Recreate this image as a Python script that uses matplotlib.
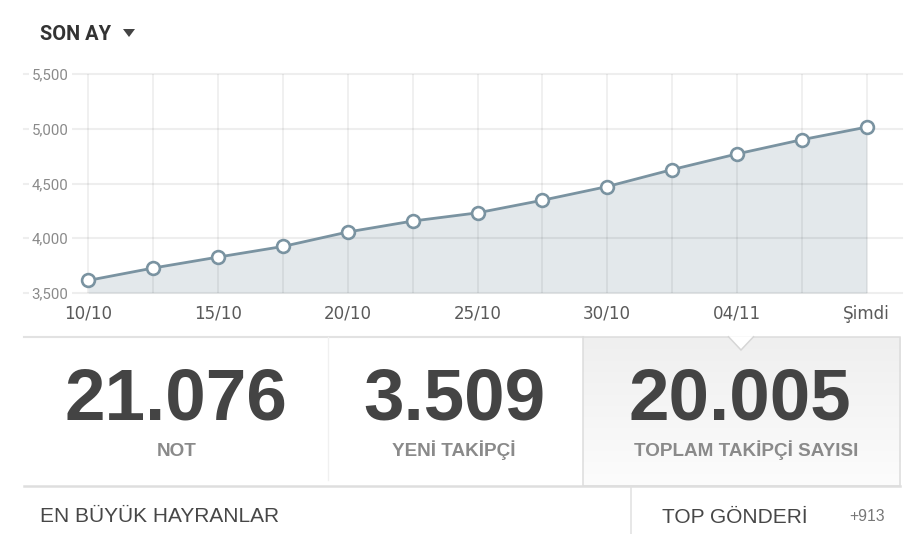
import numpy as np
import matplotlib
matplotlib.use("Agg")
import matplotlib.pyplot as plt
from matplotlib.transforms import blended_transform_factory, offset_copy
from matplotlib.colors import LinearSegmentedColormap
from matplotlib.patches import Rectangle, Polygon

# follower count over the last month (one point per ~2.5 days)
followers = [3615, 3728, 3828, 3925, 4057, 4157, 4232, 4347, 4472, 4627, 4770, 4900, 5015]
tick_labels = ['10/10', '15/10', '20/10', '25/10', '30/10', '04/11', 'Şimdi']
y_ticks = [3500, 4000, 4500, 5000, 5500]

# summary numbers under the chart
stat_values = ['21.076', '3.509', '20.005']
stat_names = ['NOT', 'YENİ TAKİPÇİ', 'TOPLAM TAKİPÇİ SAYISI']

W, H = 917, 534
LINE = '#7a93a1'
FILL = '#e3e8eb'

fig = plt.figure(figsize=(W / 100, H / 100), dpi=100)
fig.patch.set_facecolor('white')

# chart axes: spans pixel x 24..902, y 74..293
ax = fig.add_axes([24 / W, 1 - 293 / H, 878 / W, 219 / H])
# overlay in pixel coordinates for the panel below
ui = fig.add_axes([0, 0, 1, 1], zorder=-1)
ui.axis('off')

idx = np.arange(len(followers))
step = (866.7 - 88.3) / (len(followers) - 1)
ax.set_xlim(-(88.3 - 24) / step, len(followers) - 1 + (902 - 866.7) / step)
ax.set_ylim(y_ticks[0], y_ticks[-1])
ax.axis('off')

ax.fill_between(idx, followers, y_ticks[0], color=FILL, lw=0, zorder=1)
for yv in y_ticks:
    ax.axhline(yv, color='black', alpha=0.065, lw=1.5, clip_on=False, zorder=2)
for i in idx:
    ax.plot([i, i], [y_ticks[0], y_ticks[-1]], color='black', alpha=0.07,
            lw=1.2, zorder=2, solid_capstyle='butt')
ax.plot(idx, followers, color=LINE, lw=2.0, zorder=3, clip_on=False,
        marker='o', ms=9.2, mfc='white', mec=LINE, mew=1.9)

# y labels sit on the gridlines with a white box
ytrans = offset_copy(blended_transform_factory(ui.transData, ax.transData),
                     fig=fig, x=0, y=-5.3 * 0.72, units='points')
for yv in y_ticks:
    ax.text(68.5, yv, f'{yv:,}', transform=ytrans, ha='right', va='baseline',
            fontsize=10.8, family='Roboto', color='#8a8a8a', zorder=4,
            bbox=dict(boxstyle='square,pad=0.2', fc='white', ec='none'))

xtrans = blended_transform_factory(ax.transData, ui.transData)
for i, lab in zip(idx[::2], tick_labels):
    ax.text(i, 319, lab, transform=xtrans, ha='center', va='baseline',
            fontsize=12.1, family='DejaVu Sans', color='#5a5a5a')

# header
fig.text(39.5 / W, 1 - 40 / H, 'SON AY', fontsize=14.4, family='Roboto',
         weight='bold', color='#333333', ha='left', va='baseline')
ui.add_patch(Polygon([[123, 29], [135, 29], [129, 37]], closed=True,
                     fc='#444444', ec='none'))

# stats panel
ui.plot([24, 583], [336.7, 336.7], color='#e2e2e2', lw=1.5)
grad = LinearSegmentedColormap.from_list('g', ['#efefef', '#fcfcfc'])
ui.imshow(np.linspace(0, 1, 100).reshape(-1, 1), extent=[582.7, 900, 485.7, 336.7],
          cmap=grad, aspect='auto', zorder=1)
ui.add_patch(Rectangle((582.7, 336.7), 900 - 582.7, 485.7 - 336.7, fc='none',
                       ec='#dcdcdc', lw=1.1, zorder=2))
ui.add_patch(Polygon([[728, 336.2], [741, 350], [754, 336.2]], closed=False,
                     fc='white', ec='#d6d6d6', lw=1.1, zorder=3))
ui.plot([327.5, 327.5], [337, 480], color='#f0f0f0', lw=1.0, zorder=2)
ui.plot([24, 900], [486, 486], color='#dedede', lw=1.8, zorder=3)
ui.plot([631, 631], [487, 534], color='#e0e0e0', lw=1.1, zorder=3)

num_x = [175.5, 454, 740]
name_x = [177, 454, 746]
for v, n, xv, xn in zip(stat_values, stat_names, num_x, name_x):
    ui.text(xv, 420, v, ha='center', va='baseline', fontsize=52.5,
            family='Liberation Sans', weight='bold', color='#444444', zorder=4)
    ui.text(xn, 456, n, ha='center', va='baseline', fontsize=13.6,
            family='Liberation Sans', weight='bold', color='#8a8a8a', zorder=4)

ui.text(40, 522.5, 'EN BÜYÜK HAYRANLAR', ha='left', va='baseline', fontsize=15,
        family='Liberation Sans', color='#474747')
ui.text(662, 523, 'TOP GÖNDERİ', ha='left', va='baseline', fontsize=15,
        family='Liberation Sans', color='#474747')
ui.text(849, 521, '+913', ha='left', va='baseline', fontsize=11.3,
        family='Liberation Sans', color='#777777')

ui.set_xlim(0, W)
ui.set_ylim(H, 0)

fig.savefig('out.png', dpi=100, facecolor='white')
